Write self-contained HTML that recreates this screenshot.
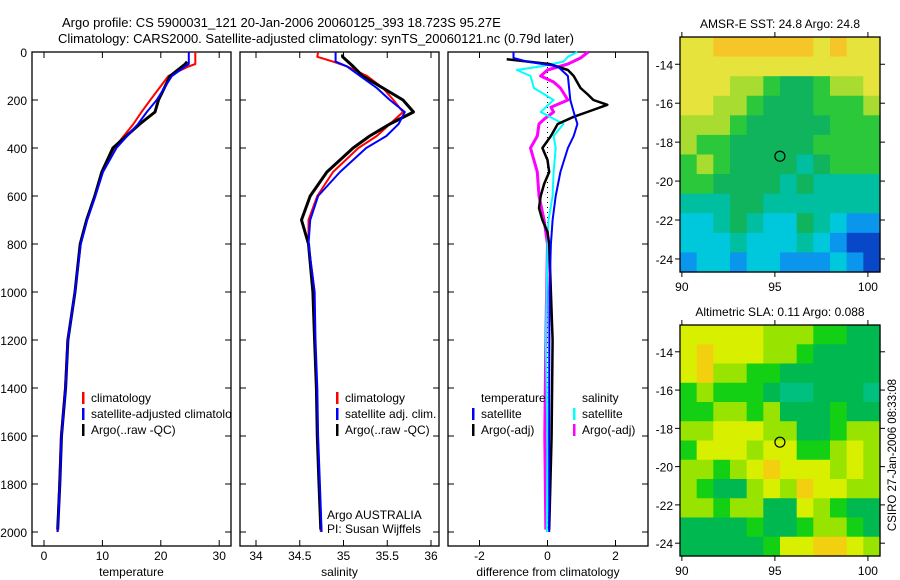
<!DOCTYPE html>
<html><head><meta charset="utf-8">
<style>
html,body{margin:0;padding:0;background:#fff;}
svg{display:block;font-family:"Liberation Sans",sans-serif;}
text{fill:#000;font-size:12px;}
</style></head>
<body>
<svg id="fig" width="900" height="580" viewBox="0 0 900 580" xmlns="http://www.w3.org/2000/svg">
<defs><clipPath id="clip1"><rect x="32" y="52" width="199" height="494"/></clipPath></defs>
<text x="62" y="27" style="font-size:13px">Argo profile: CS 5900031_121 20-Jan-2006 20060125_393 18.723S 95.27E</text>
<text x="58" y="43" style="font-size:13px">Climatology: CARS2000. Satellite-adjusted climatology: synTS_20060121.nc (0.79d later)</text>
<g id="p1"></g>
<g id="p2"></g>
<g id="p3"></g>
<g id="m1"></g>
<g id="m2"></g>
<text transform="translate(896,455) rotate(-90)" text-anchor="middle" style="font-size:11.5px">CSIRO 27-Jan-2006 08:33:08</text>
</svg>
<script>
// ---- data ----
const depthTicks = [0,200,400,600,800,1000,1200,1400,1600,1800,2000];
const tempTicks = [0,10,20,30];
const salTicks = [34,34.5,35,35.5,36];
const diffTicks = [-2,0,2];
const tDepth = [0,50,60,100,200,250,300,400,500,600,700,800,1000,1200,1400,1600,1800,2000];
const tClim = [25.9,25.9,24.8,21.3,18.2,16.7,15.3,12.0,9.9,8.7,7.3,6.2,5.3,4.0,3.6,2.9,2.6,2.3];
const tSat = [24.8,24.8,24.2,21.9,19.3,17.6,16.1,12.4,10.1,8.8,7.4,6.3,5.3,4.1,3.7,3.0,2.7,2.35];
const tArgoDepth = [40,50,100,200,250,300,400,500,600,700,800,1000,1200,1400,1600,1800,1990];
const tArgo = [24.5,24.2,21.6,19.6,19.0,16.4,11.8,9.9,8.7,7.3,6.2,5.3,4.1,3.7,3.0,2.7,2.35];
const sDepth = [0,20,40,60,100,150,200,250,300,350,400,500,600,700,800,1000,1200,1400,1600,1800,2000];
const sClim = [34.71,34.70,34.88,35.04,35.27,35.45,35.57,35.68,35.53,35.38,35.17,34.88,34.70,34.60,34.60,34.67,34.67,34.69,34.70,34.72,34.74];
const sSat = [34.91,34.91,34.91,35.04,35.19,35.38,35.53,35.70,35.63,35.49,35.26,34.96,34.71,34.62,34.60,34.67,34.68,34.70,34.71,34.73,34.75];
const sArgoDepth = [10,20,40,60,100,150,200,250,300,350,400,500,600,700,800,1000,1200,1400,1600,1800,1990];
const sArgo = [34.99,34.99,35.05,35.11,35.22,35.45,35.68,35.80,35.53,35.30,35.11,34.81,34.62,34.52,34.60,34.65,34.67,34.69,34.70,34.72,34.74];
const dTsatDepth = [0,25,40,60,100,200,250,300,350,400,500,600,700,800,1000,1400,2000];
const dTsat = [-1.0,-1.0,-0.6,0.3,0.6,0.67,0.77,0.88,0.77,0.6,0.38,0.24,0.15,0.1,0.06,0.05,0.05];
const dTargoDepth = [30,50,75,100,150,175,200,220,250,270,300,350,400,450,500,550,600,650,700,750,800,1000,1200,1600,1990];
const dTargo = [-1.2,0.05,0.6,0.77,0.97,1.17,1.35,1.76,1.17,0.77,0.3,0.1,-0.15,0,0.05,-0.1,-0.2,-0.25,-0.15,0,0.05,0.1,0.15,0.12,0.05];
const dSsatDepth = [0,20,40,60,75,100,150,200,250,300,350,400,500,600,700,800,1200,1600,2000];
const dSsat = [0.88,0.6,0.47,-0.2,-0.9,-0.5,-0.4,0.18,-0.2,0.47,0.18,0.24,0.18,0.15,0.03,0.0,-0.05,0.0,-0.02];
const dSargoDepth = [0,25,50,75,100,125,150,200,230,250,280,300,350,400,450,500,600,700,800,1200,1600,1990];
const dSargo = [1.2,0.97,0.6,0,-0.2,0.18,0.38,0.6,0.1,0.18,-0.1,-0.25,-0.3,-0.5,-0.4,-0.3,-0.25,-0.1,0,-0.05,-0.08,-0.05];
const lonTicks = [90,95,100];
const latTicks = [-14,-16,-18,-20,-22,-24];
const sstGrid = ["YYOOOOOOYOYY","YYYYYYYYYYYY","YYYLLGDDGLLY","YYLLGDDDGGGL","LLLGDDDDDGGG","LGGDDDDDGGGG","GLGDDDDTDGGG","GGDDDDTDTTTT","TTTDDTTTTTTT","CCTDTCCDTCBB","CCCTCCCTCBNN","BCCBCCBBBCBN"];
const slaGrid = ["YYYYYLLLGGDD","YOYYYLLGDDDD","YOLLGGDDDDDD","GLGGGDTTDDDT","GGLLGLDDDGDD","LLYYYLLDDGLL","GYYYLYYGGLYL","LLGLYOYYYLYL","LGDDLYLOYYLL","LLGLLDDYLGDD","DDDDGDDGLLGD","DDDDDGYYOOYL"];
const sstColors = {O:"#f6c628",Y:"#e6e43c",L:"#a8dc30",G:"#2cc83c",D:"#10b45c",T:"#00bea0",C:"#00c8dc",B:"#0a96ec",N:"#0848c8"};
const slaColors = {O:"#f2d010",Y:"#d8f000",L:"#98e400",G:"#14d014",D:"#00b850",T:"#00c080"};
const argoLon = 95.27, argoLat = -18.723;

const NS = "http://www.w3.org/2000/svg";
function mk(parent, tag, attrs){const e=document.createElementNS(NS,tag);for(const k in attrs)e.setAttribute(k,attrs[k]);parent.appendChild(e);return e;}

const Y0=52, Y1=546;
const yD = d => 52 + d*0.24;

function panel(g, x0, x1, xs, ticks, fmt, label, leftLabels){
  mk(g,'rect',{x:x0,y:Y0,width:x1-x0,height:Y1-Y0,fill:'none',stroke:'#000','stroke-width':1.3});
  ticks.forEach(t=>{const x=xs(t);
    mk(g,'line',{x1:x,x2:x,y1:Y0,y2:Y0+6,stroke:'#000'});
    mk(g,'line',{x1:x,x2:x,y1:Y1,y2:Y1-6,stroke:'#000'});
    const tx=mk(g,'text',{x:x,y:560,'text-anchor':'middle'});tx.textContent=fmt(t);
    
    
  });
  depthTicks.forEach(d=>{const y=yD(d);
    mk(g,'line',{x1:x0,x2:x0+6,y1:y,y2:y,stroke:'#000'});
    mk(g,'line',{x1:x1,x2:x1-6,y1:y,y2:y,stroke:'#000'});
    if(leftLabels){const tx=mk(g,'text',{x:27,y:y+5,'text-anchor':'end'});tx.textContent=d;
      
      }
  });
  const lt=mk(g,'text',{x:(x0+x1)/2,y:576,'text-anchor':'middle'});lt.textContent=label;
  
  
}
function series(g, xs, depths, vals, color, w, name){
  const pts=depths.map((d,i)=>xs(vals[i]).toFixed(1)+','+yD(d).toFixed(1)).join(' ');
  const p=mk(g,'polyline',{points:pts,fill:'none',stroke:color,'stroke-width':w,'stroke-linejoin':'round'});
  
  
}
function legend(g, x, y, color, label, clip){
  if(color) mk(g,'rect',{x:x,y:y-10,width:2.5,height:12,fill:color});
  const t=mk(g,'text',{x:x+9,y:y});t.textContent=label;
  if(clip) t.setAttribute('clip-path','url(#clip1)');
  
  
}

// temperature
const p1=document.getElementById('p1');
const xT = v => 44 + v*5.84;
panel(p1,32,231,xT,tempTicks,String,'temperature',true);
series(p1,xT,tDepth,tClim,'#f00',2,'temp-climatology-line');
series(p1,xT,tArgoDepth,tArgo,'#000',3,'temp-argo-line');
series(p1,xT,tDepth,tSat,'#00f',2,'temp-satellite-line');
legend(p1,82,402,'#f00','climatology',true);
legend(p1,82,418,'#00f','satellite-adjusted climatology',true);
legend(p1,82,434,'#000','Argo(..raw -QC)',true);
// salinity
const p2=document.getElementById('p2');
const xS = v => 256 + (v-34)*87.5;
panel(p2,240,439,xS,salTicks,String,'salinity',false);
series(p2,xS,sDepth,sClim,'#f00',2,'sal-climatology-line');
series(p2,xS,sArgoDepth,sArgo,'#000',3,'sal-argo-line');
series(p2,xS,sDepth,sSat,'#00f',2,'sal-satellite-line');
legend(p2,336,402,'#f00','climatology');
legend(p2,336,418,'#00f','satellite adj. clim.');
legend(p2,336,434,'#000','Argo(..raw -QC)');
{const t=mk(p2,'text',{x:327,y:519});t.textContent='Argo AUSTRALIA';
 const t2=mk(p2,'text',{x:327,y:533});t2.textContent='PI: Susan Wijffels';}
// difference
const p3=document.getElementById('p3');
const xDf = v => 547.5 + v*34;
panel(p3,448,648,xDf,diffTicks,String,'difference from climatology',false);
mk(p3,'line',{x1:xDf(0),x2:xDf(0),y1:Y0,y2:yD(2000),stroke:'#000','stroke-dasharray':'1 4'});
series(p3,xDf,dSargoDepth,dSargo,'#f0f',3,'diff-sal-argo-line');
series(p3,xDf,dSsatDepth,dSsat,'#0ff',2,'diff-sal-satellite-line');
series(p3,xDf,dTargoDepth,dTargo,'#000',2.5,'diff-temp-argo-line');
series(p3,xDf,dTsatDepth,dTsat,'#00f',2,'diff-temp-satellite-line');
legend(p3,472,402,null,'temperature');
legend(p3,472,418,'#00f','satellite');
legend(p3,472,434,'#000','Argo(-adj)');
legend(p3,573,402,null,'salinity');
legend(p3,573,418,'#0ff','satellite');
legend(p3,573,434,'#f0f','Argo(-adj)');

// maps
function map(g, top, bottom, grid, colors, title){
  const x0=680,x1=880,lonA=89.9,lonB=100.65,latA=-12.6,latB=-24.67;
  const xs=l=>x0+(l-lonA)/(lonB-lonA)*(x1-x0);
  const ys=l=>top+(l-latA)/(latB-latA)*(bottom-top);
  const n=grid.length,m=grid[0].length,cw=(x1-x0)/m,ch=(bottom-top)/n;
  grid.forEach((row,j)=>{for(let i=0;i<m;i++){
    const r=mk(g,'rect',{x:(x0+i*cw).toFixed(2),y:(top+j*ch).toFixed(2),width:(cw+0.6).toFixed(2),height:(ch+0.6).toFixed(2),fill:colors[row[i]]});
    
    
  }});
  mk(g,'rect',{x:x0,y:top,width:x1-x0,height:bottom-top,fill:'none',stroke:'#000','stroke-width':1.3});
  lonTicks.forEach(l=>{const x=xs(l);
    mk(g,'line',{x1:x,x2:x,y1:top,y2:top-5,stroke:'#000'});
    mk(g,'line',{x1:x,x2:x,y1:bottom,y2:bottom+5,stroke:'#000'});
    const t=mk(g,'text',{x:x,y:bottom+19,'text-anchor':'middle'});t.textContent=l;
    
    
  });
  latTicks.forEach(l=>{const y=ys(l);
    mk(g,'line',{x1:x0,x2:x0-5,y1:y,y2:y,stroke:'#000'});
    mk(g,'line',{x1:x1,x2:x1+5,y1:y,y2:y,stroke:'#000'});
    const t=mk(g,'text',{x:673,y:y+5,'text-anchor':'end'});t.textContent=l;
    
    
  });
  const c=mk(g,'circle',{cx:xs(argoLon),cy:ys(argoLat),r:5,fill:'none',stroke:'#000','stroke-width':1.2});
  
  
  const t=mk(g,'text',{x:(x0+x1)/2,y:top-9,'text-anchor':'middle'});t.textContent=title;
  
  
}
map(document.getElementById('m1'),37,272,sstGrid,sstColors,'AMSR-E SST: 24.8 Argo: 24.8');
map(document.getElementById('m2'),325,556,slaGrid,slaColors,'Altimetric SLA: 0.11 Argo: 0.088');
</script>
</body></html>
